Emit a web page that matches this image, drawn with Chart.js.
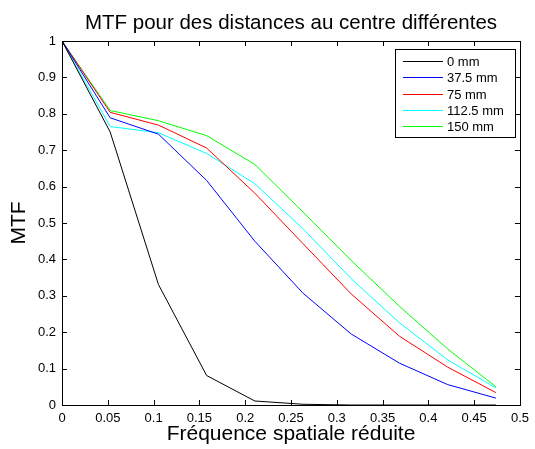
<!DOCTYPE html>
<html>
<head>
<meta charset="utf-8">
<script src="https://cdn.jsdelivr.net/npm/chart.js@4/dist/chart.umd.min.js"></script>
<style>
  html, body { margin: 0; padding: 0; background: #fff; }
  #wrap { width: 535px; height: 449px; }
</style>
</head>
<body>
<div id="wrap"><canvas id="c" width="535" height="449"></canvas></div>
<script>
// Reduced spatial frequency samples (k/19)
const freq = [0, 0.0526, 0.1053, 0.1579, 0.2105, 0.2632, 0.3158, 0.3684, 0.4211, 0.4737];

// MTF at each distance from the centre
const mtf0    = [1, 0.750, 0.331, 0.081, 0.011, 0.002, 0, 0, 0, 0];
const mtf375  = [1, 0.789, 0.744, 0.617, 0.450, 0.307, 0.195, 0.115, 0.056, 0.019];
const mtf75   = [1, 0.804, 0.769, 0.706, 0.582, 0.443, 0.305, 0.189, 0.104, 0.034];
const mtf1125 = [1, 0.765, 0.748, 0.691, 0.608, 0.484, 0.347, 0.226, 0.124, 0.047];
const mtf150  = [1, 0.809, 0.781, 0.740, 0.661, 0.530, 0.397, 0.271, 0.154, 0.050];

const seriesLabels = ['0 mm', '37.5 mm', '75 mm', '112.5 mm', '150 mm'];
const seriesColors = ['#000000', '#0000ff', '#ff0000', '#00ffff', '#00ff00'];

// Axis ticks
const xTicks = [0, 0.05, 0.1, 0.15, 0.2, 0.25, 0.3, 0.35, 0.4, 0.45, 0.5];
const xTickLabels = ['0', '0.05', '0.1', '0.15', '0.2', '0.25', '0.3', '0.35', '0.4', '0.45', '0.5'];
const yTicks = [0, 0.1, 0.2, 0.3, 0.4, 0.5, 0.6, 0.7, 0.8, 0.9, 1];
const yTickLabels = ['0', '0.1', '0.2', '0.3', '0.4', '0.5', '0.6', '0.7', '0.8', '0.9', '1'];

const chartTitle = 'MTF pour des distances au centre différentes';

const FONT = '"Liberation Sans", Arial, Helvetica, sans-serif';

const toPoints = (ys) => freq.map((x, i) => ({ x: x, y: ys[i] }));
const allSeries = [mtf0, mtf375, mtf75, mtf1125, mtf150];

// Title centred over the axes rather than the whole canvas
const axesTitlePlugin = {
  id: 'axesTitle',
  afterDraw(chart) {
    const { ctx, chartArea: a } = chart;
    ctx.save();
    ctx.fillStyle = '#000';
    ctx.font = '20.5px ' + FONT;
    ctx.textAlign = 'center';
    ctx.textBaseline = 'alphabetic';
    ctx.fillText(chartTitle, (a.left + a.right) / 2, 28.5);
    ctx.restore();
  }
};

// Box around the axes with inward tick marks on all four sides
const boxPlugin = {
  id: 'box',
  afterDatasetsDraw(chart) {
    const { ctx, chartArea: a, scales } = chart;
    const tl = 5;
    ctx.save();
    ctx.strokeStyle = '#000';
    ctx.lineWidth = 1;
    ctx.beginPath();
    scales.x.ticks.forEach(t => {
      const px = Math.round(scales.x.getPixelForValue(t.value)) + 0.5;
      ctx.moveTo(px, a.bottom); ctx.lineTo(px, a.bottom - tl);
      ctx.moveTo(px, a.top); ctx.lineTo(px, a.top + tl);
    });
    scales.y.ticks.forEach(t => {
      const py = Math.round(scales.y.getPixelForValue(t.value)) + 0.5;
      ctx.moveTo(a.left, py); ctx.lineTo(a.left + tl, py);
      ctx.moveTo(a.right, py); ctx.lineTo(a.right - tl, py);
    });
    ctx.stroke();
    ctx.strokeRect(Math.round(a.left) + 0.5, Math.round(a.top) + 0.5,
                   Math.round(a.right - a.left), Math.round(a.bottom - a.top));
    ctx.restore();
  }
};

// Legend box in the upper right corner of the axes
const legendBoxPlugin = {
  id: 'legendBox',
  afterDraw(chart) {
    const { ctx, chartArea: a } = chart;
    const right = a.right - 5, top = a.top + 8;
    const w = 120, h = 88;
    const left = right - w;
    ctx.save();
    ctx.fillStyle = '#fff';
    ctx.fillRect(left, top, w, h);
    ctx.strokeStyle = '#000';
    ctx.lineWidth = 1;
    ctx.strokeRect(Math.round(left) + 0.5, Math.round(top) + 0.5, w, h);
    ctx.font = '13px ' + FONT;
    ctx.textBaseline = 'middle';
    ctx.textAlign = 'left';
    chart.data.datasets.forEach((ds, i) => {
      const y = Math.round(top + 12 + i * 16.3) + 0.5;
      ctx.strokeStyle = ds.borderColor;
      ctx.beginPath();
      ctx.moveTo(left + 8, y);
      ctx.lineTo(left + 48, y);
      ctx.stroke();
      ctx.fillStyle = '#000';
      ctx.fillText(ds.label, left + 52, y + 0.5);
    });
    ctx.restore();
  }
};

new Chart(document.getElementById('c'), {
  type: 'line',
  data: {
    datasets: allSeries.map((s, i) => ({
      label: seriesLabels[i],
      data: toPoints(s),
      borderColor: seriesColors[i],
      backgroundColor: seriesColors[i],
      borderWidth: 1,
      pointRadius: 0,
      tension: 0,
      fill: false
    }))
  },
  options: {
    responsive: false,
    animation: false,
    events: [],
    layout: { padding: { left: 0, right: 13, top: 41, bottom: 0 } },
    plugins: {
      legend: { display: false },
      tooltip: { enabled: false },
      title: { display: false }
    },
    scales: {
      x: {
        type: 'linear',
        min: 0, max: 0.5,
        afterBuildTicks: (s) => { s.ticks = xTicks.map(v => ({ value: v })); },
        afterFit: (s) => { s.height = 44; },
        grid: { display: false, drawTicks: false },
        border: { display: false },
        ticks: {
          autoSkip: false, maxRotation: 0, padding: 6,
          color: '#000',
          font: { family: FONT, size: 13 },
          callback: (v, i) => xTickLabels[i]
        },
        title: {
          display: true,
          text: 'Fréquence spatiale réduite',
          color: '#000',
          font: { family: FONT, size: 21 },
          padding: { top: 0, bottom: 2 }
        }
      },
      y: {
        type: 'linear',
        min: 0, max: 1,
        afterBuildTicks: (s) => { s.ticks = yTicks.map(v => ({ value: v })); },
        afterFit: (s) => { s.width = 62; },
        grid: { display: false, drawTicks: false },
        border: { display: false },
        ticks: {
          autoSkip: false, padding: 6,
          color: '#000',
          font: { family: FONT, size: 13 },
          callback: (v, i) => yTickLabels[i]
        },
        title: {
          display: true,
          text: 'MTF',
          color: '#000',
          font: { family: FONT, size: 21 },
          padding: { top: 7, bottom: 0 }
        }
      }
    }
  },
  plugins: [boxPlugin, legendBoxPlugin, axesTitlePlugin]
});
</script>
</body>
</html>
